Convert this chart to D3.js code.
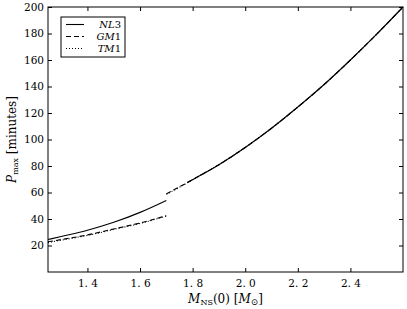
<!DOCTYPE html>
<html><head><meta charset="utf-8">
<script src="https://cdn.jsdelivr.net/npm/d3@7"></script>
<style>body{margin:0;background:#fff}svg{display:block}</style>
</head><body>
<script>
const massLow = [1.25, 1.3, 1.4, 1.5, 1.6, 1.7];
const nl3Low = [24.5, 26.8, 31.5, 37.5, 45, 54];
const gm1Low = [22.8, 24.5, 28, 32.5, 37, 42.5];
const tm1Low = [22.2, 24.0, 27.6, 32.1, 36.6, 42.2];
const massHigh = [1.7, 1.78, 1.8, 1.9, 2.0, 2.1, 2.2, 2.3, 2.4, 2.5, 2.6];
const nl3High = [null, 67.5, 69.7, 81, 94, 108.5, 124.5, 141.5, 160, 179.5, 200];
const gm1High = [59, 67.5, 69.7, 81, 94, 108.5, 124.5, 141.5, 160, 179.5, 200];
const tm1High = [58.6, 67.3, 69.7, 81, 94, 108.5, 124.5, 141.5, 160, 179.5, 200];
const xTicks = [1.4, 1.6, 1.8, 2.0, 2.2, 2.4];
const yTicks = [20, 40, 60, 80, 100, 120, 140, 160, 180, 200];
const legendNames = ["NL3", "GM1", "TM1"];

const W = 407, H = 309;
const m = {l: 48, r: 4, t: 7, b: 37};
const svg = d3.select("body").append("svg").attr("width", W).attr("height", H);
const x = d3.scaleLinear().domain([1.25, 2.6]).range([m.l, W - m.r]);
const y = d3.scaleLinear().domain([0, 200]).range([H - m.b, m.t]);
const font = "DejaVu Serif";

const styles = [
  {dash: null, w: 1.1},
  {dash: "5,3", w: 1.1},
  {dash: "1,2", w: 1.1}
];

const line = d3.line().defined(d => d[1] != null).curve(d3.curveMonotoneX)
  .x(d => x(d[0])).y(d => y(d[1]));
const seriesLow = [nl3Low, gm1Low, tm1Low];
const seriesHigh = [nl3High, gm1High, tm1High];
const g = svg.append("g");
[2, 1, 0].forEach(i => {
  g.append("path").attr("d", line(massLow.map((mm, j) => [mm, seriesLow[i][j]])))
    .attr("fill", "none").attr("stroke", "#000").attr("stroke-width", styles[i].w)
    .attr("stroke-dasharray", styles[i].dash);
  g.append("path").attr("d", line(massHigh.map((mm, j) => [mm, seriesHigh[i][j]])))
    .attr("fill", "none").attr("stroke", "#000").attr("stroke-width", styles[i].w)
    .attr("stroke-dasharray", styles[i].dash);
});

// frame
svg.append("rect").attr("x", m.l).attr("y", m.t).attr("width", W - m.r - m.l).attr("height", H - m.b - m.t)
  .attr("fill", "none").attr("stroke", "#000").attr("stroke-width", 1);

const tl = 4;
const axB = svg.append("g").attr("transform", `translate(0,${H - m.b})`)
  .call(d3.axisBottom(x).tickValues(xTicks).tickSizeInner(-tl).tickSizeOuter(0).tickPadding(8).tickFormat(d3.format(".1f")));
const axT = svg.append("g").attr("transform", `translate(0,${m.t})`)
  .call(d3.axisTop(x).tickValues(xTicks).tickSizeInner(-tl).tickSizeOuter(0).tickFormat(""));
const axL = svg.append("g").attr("transform", `translate(${m.l},0)`)
  .call(d3.axisLeft(y).tickValues(yTicks).tickSizeInner(-tl).tickSizeOuter(0).tickPadding(4));
const axR = svg.append("g").attr("transform", `translate(${W - m.r},0)`)
  .call(d3.axisRight(y).tickValues(yTicks).tickSizeInner(-tl).tickSizeOuter(0).tickFormat(""));
[axB, axT, axL, axR].forEach(a => {
  a.select(".domain").remove();
  a.selectAll("line").attr("stroke", "#000");
  a.selectAll("text").attr("font-family", font).attr("font-size", 10.5).attr("fill", "#000");
});
axB.selectAll("text").text(d => d.toFixed(1).replace(".", ". "));

// axis labels
const xl = svg.append("text").attr("x", (m.l + W - m.r) / 2).attr("y", 303).attr("text-anchor", "middle")
  .attr("font-family", font).attr("font-size", 12);
xl.append("tspan").attr("font-style", "italic").text("M");
xl.append("tspan").attr("font-size", 8).attr("dy", 2).text("NS");
xl.append("tspan").attr("dy", -2).text("(0) [");
xl.append("tspan").attr("font-style", "italic").text("M");
xl.append("tspan").attr("font-size", 9).attr("dy", 2).text("⊙");
xl.append("tspan").attr("dy", -2).text("]");

const yl = svg.append("text").attr("transform", `translate(16,${(m.t + H - m.b) / 2}) rotate(-90)`)
  .attr("text-anchor", "middle").attr("font-family", font).attr("font-size", 12);
yl.append("tspan").attr("font-style", "italic").text("P");
yl.append("tspan").attr("font-size", 8).attr("dy", 2).text("max");
yl.append("tspan").attr("dy", -2).text(" [minutes]");

// legend
const lg = svg.append("g");
lg.append("rect").attr("x", 61).attr("y", 17).attr("width", 64).attr("height", 40)
  .attr("fill", "#fff").attr("stroke", "#000").attr("stroke-width", 1);
legendNames.forEach((n, i) => {
  const yy = 24.5 + i * 12;
  lg.append("line").attr("x1", 66).attr("x2", 84).attr("y1", yy).attr("y2", yy)
    .attr("stroke", "#000").attr("stroke-width", 1.1).attr("stroke-dasharray", styles[i].dash);
  const t = lg.append("text").attr("x", 121).attr("y", yy + 3.5).attr("text-anchor", "end")
    .attr("font-family", font).attr("font-size", 10);
  t.append("tspan").attr("font-style", "italic").text(n.slice(0, 2));
  t.append("tspan").text(n.slice(2));
});
</script>
</body></html>
